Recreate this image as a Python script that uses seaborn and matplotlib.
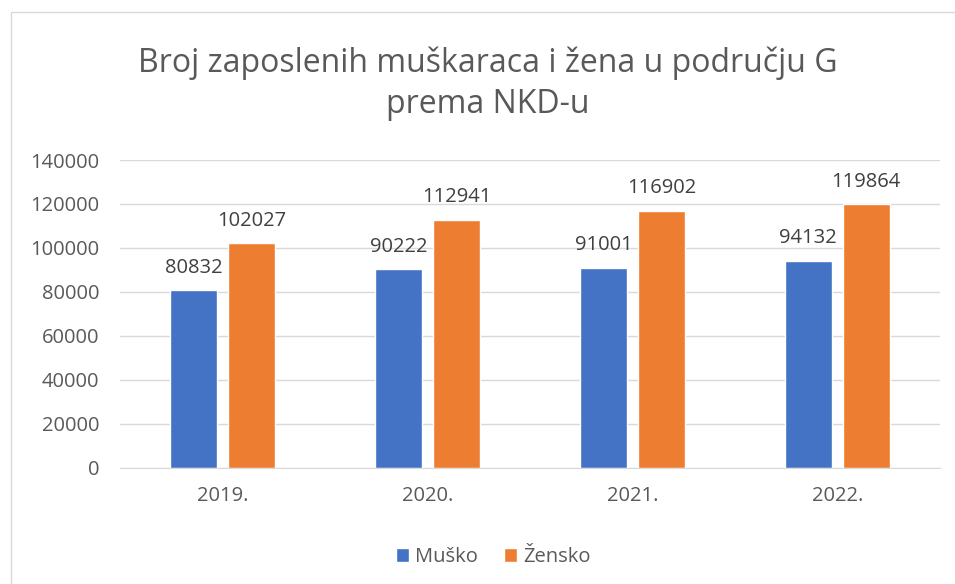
import matplotlib
matplotlib.use("Agg")
import matplotlib.pyplot as plt
import pandas as pd
import seaborn as sns
from matplotlib.patches import Rectangle

years = ["2019.", "2020.", "2021.", "2022."]
musko = [80832, 90222, 91001, 94132]
zensko = [102027, 112941, 116902, 119864]
series_names = ["Muško", "Žensko"]
colors = ["#4472C4", "#ED7D31"]

df = pd.DataFrame({
    "godina": years * 2,
    "spol": [series_names[0]] * len(years) + [series_names[1]] * len(years),
    "broj": musko + zensko,
})

sns.set_style("white")
plt.rcParams["font.family"] = ["Open Sans", "DejaVu Sans"]

fig = plt.figure(figsize=(9.55, 5.84), dpi=100)
ax = fig.add_axes([0.126, 0.199, 0.858, 0.527])

sns.barplot(data=df, x="godina", y="broj", hue="spol", palette=colors,
            width=0.566, gap=0.19, ax=ax, saturation=1, legend=True)

for cont in ax.containers:
    ax.bar_label(cont, fmt="%d", padding=9, fontsize=14.5, color="#404040")

ax.set_ylim(0, 140000)
ax.set_yticks(range(0, 140001, 20000))
ax.set_xlim(-0.5, 3.5)
ax.yaxis.grid(True, color="#D9D9D9", linewidth=1)
ax.set_axisbelow(True)
for s in ["top", "right", "left"]:
    ax.spines[s].set_visible(False)
ax.spines["bottom"].set_color("#D9D9D9")
ax.tick_params(axis="both", labelsize=14.5, labelcolor="#595959", length=0)
ax.tick_params(axis="y", pad=15)
ax.tick_params(axis="x", pad=13)
ax.set_xlabel("")
ax.set_ylabel("")

ax.legend(loc="center", bbox_to_anchor=(0.455, -0.29), ncol=2, frameon=False,
          fontsize=14.5, handlelength=0.65, handleheight=0.65, handletextpad=0.3,
          columnspacing=1.3, labelcolor="#595959")

fig.text(0.511, 0.857, "Broj zaposlenih muškaraca i žena u području G\nprema NKD-u",
         ha="center", va="center", fontsize=23, color="#595959", linespacing=1.33)

fig.patches.append(Rectangle((0.012, -0.05), 1.2, 1.03, transform=fig.transFigure,
                             fill=False, edgecolor="#D9D9D9", linewidth=1))

fig.savefig("out.png", dpi=100)
